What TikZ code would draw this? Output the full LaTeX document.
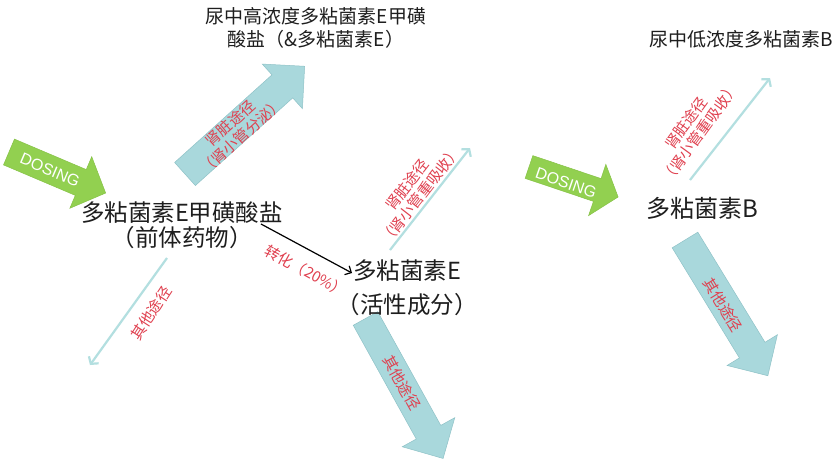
\documentclass[tikz,border=0pt]{standalone}
\usepackage{fontspec}
\setmainfont{Noto Sans CJK SC}
\newfontfamily\arialf{Liberation Sans}
\usetikzlibrary{arrows.meta}
\definecolor{dgreen}{HTML}{92D050}
\definecolor{dgreenedge}{HTML}{86C246}
\definecolor{bfill}{HTML}{A9D8DC}
\definecolor{bedge}{HTML}{8FC2C7}
\definecolor{thinc}{HTML}{B3DFE0}
\definecolor{redlab}{HTML}{E0404F}
\definecolor{txt}{HTML}{1E1E1E}
% #1 style, #2 tail centre, #3 angle, #4 length, #5 half shaft, #6 half head, #7 head length, #8 name
\newcommand{\myblockarrow}[8]{%
  \begin{scope}[shift={#2}, rotate=#3]
    \draw[#1] (0,-#5) -- ({#4-#7},-#5) -- ({#4-#7},-#6) -- (#4,0) -- ({#4-#7},#6) -- ({#4-#7},#5) -- (0,#5) -- cycle;
    \coordinate (#8) at ({#4/2},0);
  \end{scope}}
\begin{document}
\begin{tikzpicture}[x=1pt,y=-1pt,
  dosingarrow/.style={fill=dgreen, draw=dgreenedge, line width=0.5pt, line join=miter},
  bluearrow/.style={fill=bfill, draw=bedge, line width=0.5pt, line join=miter},
  thinarrow/.style={draw=thinc, line width=2.2pt, -{Straight Barb[length=5pt,width=12pt]}},
  convarrow/.style={draw=black, line width=1.2pt, -{Straight Barb[length=5pt,width=10pt]}},
  maintext/.style={text=txt, align=center, inner sep=0pt},
  redlabel/.style={text=redlab, align=center, inner sep=0pt, font=\fontsize{15}{17}\selectfont},
  dosingtext/.style={text=white, inner sep=0pt, font=\arialf\fontsize{16}{18}\selectfont}
]
\fill[white] (0,0) rectangle (837,464);
\useasboundingbox (0,0) rectangle (837,464);

% block arrows
\myblockarrow{dosingarrow}{(9,152)}{-23}{105}{14}{28}{27}{dose1}
\myblockarrow{dosingarrow}{(529,167)}{-18.6}{94}{12}{27}{22}{dose2}
\myblockarrow{bluearrow}{(185,174)}{42}{161}{15.5}{30}{30}{renal1}
\myblockarrow{bluearrow}{(365.5,318.5)}{-61}{160}{14}{30}{30}{other2}
\myblockarrow{bluearrow}{(685,240)}{-58.6}{159}{15}{29.5}{30}{other3}

\node[dosingtext, rotate=-23] (dose1t) at (50,170) {DOSING};
\node[dosingtext, rotate=-19] (dose2t) at (566,183) {DOSING};

% thin arrows
\coordinate (t1s) at (167,258); \coordinate (t1e) at (90,365);
\coordinate (t2s) at (390,250); \coordinate (t2e) at (470,148);
\coordinate (t3s) at (690,180); \coordinate (t3e) at (770,78);
\coordinate (cs) at (261,224); \coordinate (ce) at (352,273);
\draw[thinarrow] (t1s) -- (t1e);
\draw[thinarrow] (t2s) -- (t2e);
\draw[thinarrow] (t3s) -- (t3e);
\draw[convarrow] (cs) -- (ce);

% main texts
\node[maintext, font=\fontsize{19}{23.5}\selectfont] (urineE) at (316,28) {尿中高浓度多粘菌素E甲磺\\酸盐（\&多粘菌素E）};
\node[maintext, font=\fontsize{19}{23}\selectfont] (urineB) at (741,39) {尿中低浓度多粘菌素B};
\node[maintext, font=\fontsize{23.5}{25}\selectfont] (prodrug) at (182,225) {多粘菌素E甲磺酸盐\\（前体药物）};
\node[maintext, font=\fontsize{23.5}{34}\selectfont] (active) at (407,288) {多粘菌素E\\（活性成分）};
\node[maintext, font=\fontsize{24}{28}\selectfont] (polyB) at (702,208) {多粘菌素B};

% red labels
\node[redlabel, rotate=42] (lab1) at (236,130) {肾脏途径\\（肾小管分泌）};
\node[redlabel, rotate=52] (lab2) at (414,190) {肾脏途径\\（肾小管重吸收）};
\node[redlabel, rotate=54] (lab3) at (693,128) {肾脏途径\\（肾小管重吸收）};
\node[redlabel, rotate=57] (lab4) at (151,313) {其他途径};
\node[redlabel, rotate=-29] (lab5) at (306,271) {转化（20\%）};
\node[redlabel, rotate=-61] (lab6) at (402,383) {其他途径};
\node[redlabel, rotate=-58.6] (lab7) at (723,305) {其他途径};
\end{tikzpicture}
\end{document}
